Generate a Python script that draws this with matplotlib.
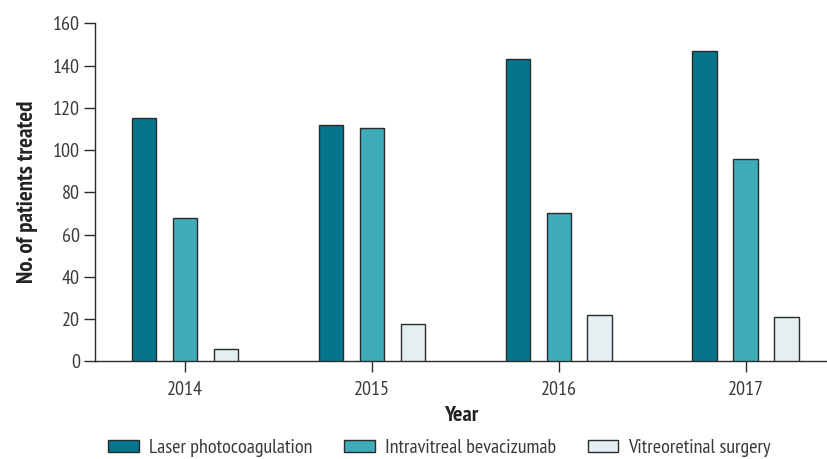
import numpy as np
import matplotlib.pyplot as plt
from matplotlib.patches import Patch

years = ["2014", "2015", "2016", "2017"]
laser = [115, 112, 143, 147]
bevacizumab = [68, 110.5, 70, 96]
surgery = [6, 17.5, 22, 21]

series_names = ["Laser photocoagulation", "Intravitreal bevacizumab", "Vitreoretinal surgery"]
colors = ["#04758c", "#3fadb9", "#e3eff1"]

plt.rcParams['font.family'] = ['PT Sans Narrow', 'DejaVu Sans']

fig = plt.figure(figsize=(8.28, 4.59), dpi=100)
ax = fig.add_axes([0.1151, 0.2129, 0.8849, 0.7363])

x = np.arange(len(years))
width = 0.132
offset = 0.219
for vals, dx, c in zip([laser, bevacizumab, surgery], [-offset, 0, offset], colors):
    ax.bar(x + dx, vals, width, color=c, edgecolor="#2b2b2b", linewidth=1.0, zorder=3)

ax.set_xlim(-0.48, 3.44)
ax.set_ylim(0, 160)
ax.set_yticks(range(0, 161, 20))
ax.set_xticks(x)
ax.set_xticklabels(years)

for s in ["top", "right"]:
    ax.spines[s].set_visible(False)
for s in ["left", "bottom"]:
    ax.spines[s].set_color("#2b2b2b")
    ax.spines[s].set_linewidth(1.0)

ax.tick_params(axis="both", direction="out", length=8, width=1.0, color="#2b2b2b",
               labelsize=14.5, labelcolor="#3a3a3a")
ax.tick_params(axis="x", pad=6)
ax.tick_params(axis="y", pad=3)

ax.set_ylabel("No. of patients treated", fontsize=16.5, fontweight="bold", color="#222222", labelpad=11)
ax.set_xlabel("Year", fontsize=16, fontweight="bold", color="#222222", labelpad=5)

handles = [Patch(facecolor=c, edgecolor="#2b2b2b", linewidth=1.0) for c in colors]
fig.legend(handles, series_names, loc="lower center", bbox_to_anchor=(0.531, -0.035),
           ncol=3, frameon=False, fontsize=14.5, handlelength=1.5, handleheight=0.55,
           columnspacing=1.6, handletextpad=0.5, labelcolor="#3a3a3a")

fig.savefig("out.png", dpi=100)
